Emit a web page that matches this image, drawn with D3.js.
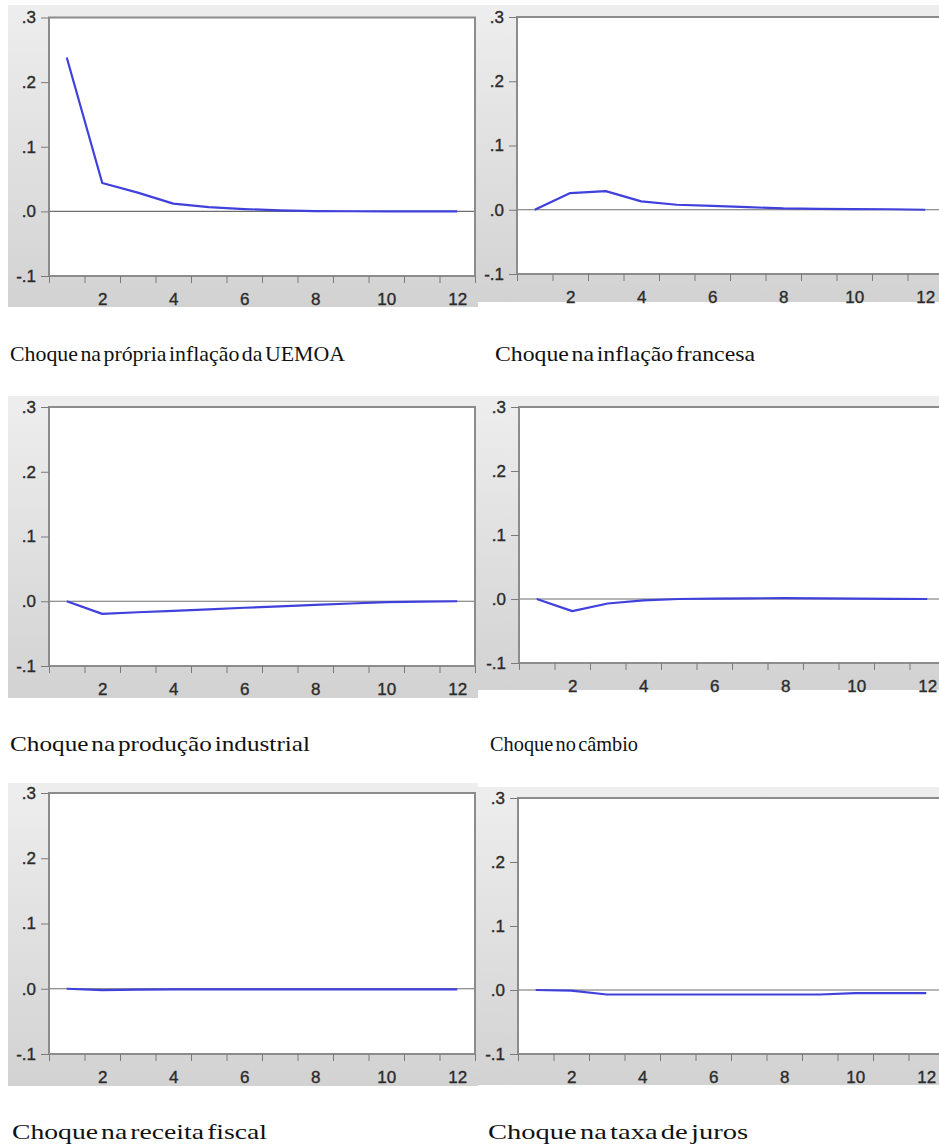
<!DOCTYPE html>
<html>
<head>
<meta charset="utf-8">
<script src="https://cdn.jsdelivr.net/npm/d3@7"></script>
<style>
  html, body { margin: 0; padding: 0; background: #fff; }
  svg { display: block; }
  .caption { font-family: "Liberation Serif", "Times New Roman", serif; font-size: 22px; fill: #111; }
</style>
</head>
<body>
<script>
// impulse responses of UEMOA inflation, periods 1..12
const periods = [1, 2, 3, 4, 5, 6, 7, 8, 9, 10, 11, 12];
const xLabelTicks = [2, 4, 6, 8, 10, 12];
const yTicks = [-0.1, 0, 0.1, 0.2, 0.3];
const yTickLabels = ["-.1", ".0", ".1", ".2", ".3"];

const ownInflation   = [0.238, 0.044, 0.029, 0.012, 0.0067, 0.0036, 0.0015, 0.0005, 0.0002, 0.0001, 0.0, 0.0];
const frenchInflation = [0.0, 0.026, 0.029, 0.013, 0.0078, 0.006, 0.004, 0.002, 0.0015, 0.001, 0.0008, 0.0];
const industrialProd = [0.0, -0.0195, -0.017, -0.015, -0.0125, -0.010, -0.008, -0.0056, -0.0035, -0.0015, -0.0007, 0.0];
const exchangeRate   = [0.0, -0.019, -0.007, -0.002, 0.0, 0.0005, 0.001, 0.0015, 0.001, 0.0005, 0.0003, 0.0];
const fiscalRevenue  = [0.0, -0.002, -0.0012, -0.001, -0.001, -0.001, -0.001, -0.001, -0.001, -0.001, -0.001, -0.001];
const interestRate   = [0.0, -0.001, -0.007, -0.007, -0.007, -0.007, -0.007, -0.007, -0.007, -0.005, -0.005, -0.005];

const captions = [
  "Choque na própria inflação da UEMOA",
  "Choque na inflação francesa",
  "Choque na produção industrial",
  "Choque no câmbio",
  "Choque na receita fiscal",
  "Choque na taxa de juros"
];
const series = [ownInflation, frenchInflation, industrialProd, exchangeRate, fiscalRevenue, interestRate];

// layout: gray panel box, plot box, caption position
const layout = [
  { gx: 8,   gy: 5,   gw: 470, gh: 302, px: 49,  top: 17.5, bottom: 276,  cx: 10,  cy: 361,  cw: 335 },
  { gx: 478, gy: 5,   gw: 461, gh: 297, px: 517, top: 17,   bottom: 274,  cx: 495, cy: 361,  cw: 260 },
  { gx: 8,   gy: 396, gw: 470, gh: 302, px: 49,  top: 407,  bottom: 666,  cx: 10,  cy: 751,  cw: 300 },
  { gx: 478, gy: 396, gw: 461, gh: 294, px: 519, top: 407,  bottom: 663,  cx: 490, cy: 751,  cw: 148 },
  { gx: 8,   gy: 783, gw: 470, gh: 303, px: 49,  top: 793,  bottom: 1054, cx: 12,  cy: 1139, cw: 255 },
  { gx: 478, gy: 787, gw: 461, gh: 298, px: 518, top: 798,  bottom: 1054, cx: 488, cy: 1139, cw: 260 }
];
const plotW = 426;

const svg = d3.select("body").append("svg")
  .attr("width", 939).attr("height", 1148);

svg.append("rect").attr("width", 939).attr("height", 1148).attr("fill", "#fff");

const grad = svg.append("defs").append("linearGradient")
  .attr("id", "panelGray").attr("x1", 0).attr("y1", 0).attr("x2", 0).attr("y2", 1);
grad.append("stop").attr("offset", "0%").attr("stop-color", "#eeeeee");
grad.append("stop").attr("offset", "100%").attr("stop-color", "#d2d2d2");

const boundaries = d3.range(0, 13).map((i) => i + 0.5);

const styleTickText = (sel) => sel.selectAll(".tick text")
  .attr("font-family", "'Liberation Sans', Arial, sans-serif")
  .attr("font-size", 17)
  .attr("fill", "#2b2b2b")
  .attr("stroke", "#2b2b2b")
  .attr("stroke-width", 0.35);

layout.forEach((L, i) => {
  const g = svg.append("g");
  const x = d3.scaleLinear().domain([0.5, 12.5]).range([L.px, L.px + plotW]);
  const y = d3.scaleLinear().domain([-0.1, 0.3]).range([L.bottom, L.top]);

  g.append("rect")
    .attr("x", L.gx).attr("y", L.gy).attr("width", L.gw).attr("height", L.gh)
    .attr("fill", "url(#panelGray)");

  g.append("rect")
    .attr("x", L.px).attr("y", L.top)
    .attr("width", plotW).attr("height", L.bottom - L.top)
    .attr("fill", "#fff");

  // zero line
  g.append("line")
    .attr("x1", L.px).attr("x2", L.px + plotW)
    .attr("y1", y(0)).attr("y2", y(0))
    .attr("stroke", "#6e6e6e").attr("stroke-width", 1.2);

  // response
  const line = d3.line().x((d, k) => x(periods[k])).y((d) => y(d));
  g.append("path")
    .datum(series[i])
    .attr("d", line)
    .attr("fill", "none")
    .attr("stroke", "#4040dc")
    .attr("stroke-width", 2.2)
    .attr("stroke-linejoin", "round");

  // frame
  g.append("rect")
    .attr("x", L.px).attr("y", L.top)
    .attr("width", plotW).attr("height", L.bottom - L.top)
    .attr("fill", "none").attr("stroke", "#8c8c8c").attr("stroke-width", 2);

  // y axis
  const ya = g.append("g")
    .attr("transform", `translate(${L.px},0)`)
    .call(d3.axisLeft(y).tickValues(yTicks).tickFormat((d, k) => yTickLabels[k]).tickSize(8).tickPadding(5));
  ya.select(".domain").remove();
  ya.selectAll(".tick line").attr("stroke", "#7a7a7a");
  styleTickText(ya);

  // x tick marks at period boundaries
  const xa = g.append("g")
    .attr("transform", `translate(0,${L.bottom})`)
    .call(d3.axisBottom(x).tickValues(boundaries).tickFormat("").tickSize(7));
  xa.select(".domain").remove();
  xa.selectAll(".tick line").attr("stroke", "#7a7a7a");

  // x labels on even periods
  const xl = g.append("g")
    .attr("transform", `translate(0,${L.bottom})`)
    .call(d3.axisBottom(x).tickValues(xLabelTicks).tickSize(0).tickPadding(17));
  xl.select(".domain").remove();
  styleTickText(xl);

  svg.append("text")
    .attr("class", "caption")
    .attr("x", L.cx).attr("y", L.cy)
    .attr("textLength", L.cw).attr("lengthAdjust", "spacingAndGlyphs")
    .attr("word-spacing", -3)
    .text(captions[i]);
});
</script>
</body>
</html>
